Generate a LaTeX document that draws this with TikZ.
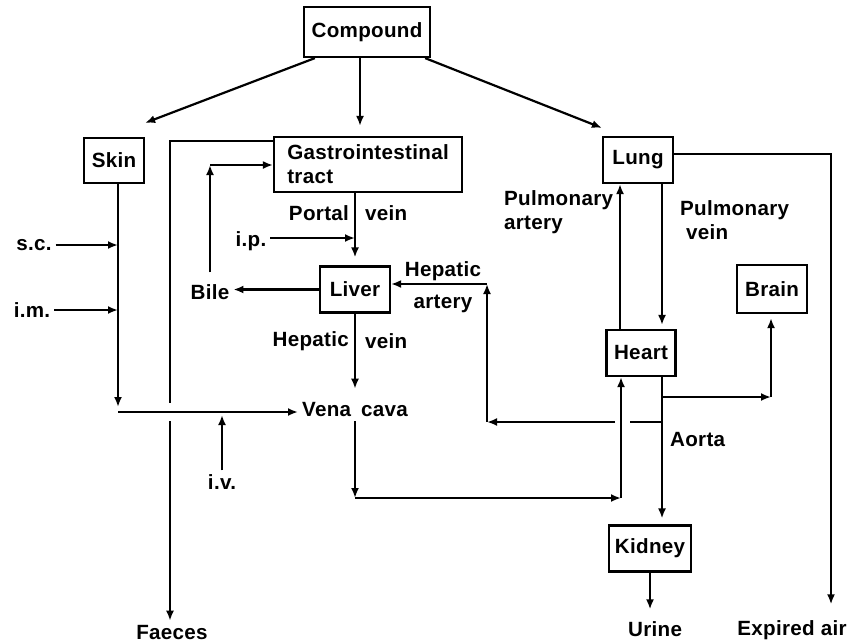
\documentclass[tikz,border=0pt]{standalone}
\usepackage{fontspec}
\setmainfont{Liberation Sans}[LetterSpace=1.5]
\usepackage{tikz}
\usetikzlibrary{arrows.meta,positioning}

\begin{document}
\begin{tikzpicture}[x=0.5pt, y=-0.5pt, line width=1.1pt,
  >={Latex[length=5pt,width=4pt]},
  every node/.style={font=\fontsize{10.3}{12}\selectfont\bfseries, inner sep=1.5pt},
  organ/.style={draw, line width=1.1pt, minimum height=23pt, inner sep=3pt}]
  \useasboundingbox (0,0) rectangle (854,643);

  % organ boxes
  \node[organ, minimum width=63pt, minimum height=25pt] (compound) at (367,32) {Compound};
  \node[organ, minimum width=30pt, minimum height=22.5pt] (skin) at (114,160.5) {Skin};
  \node[organ, minimum width=94pt, minimum height=27.5pt, align=left] (gi) at (368,164.5) {Gastrointestinal\\tract};
  \node[organ, minimum width=35pt] (lung) at (638,160) {Lung};
  \node[organ, minimum width=35pt] (liver) at (355,289.5) {Liver};
  \node[organ, minimum width=35pt, minimum height=24pt] (brain) at (772,289) {Brain};
  \node[organ, minimum width=34.5pt] (heart) at (641,353) {Heart};
  \node[organ, minimum width=40pt] (kidney) at (650,548.5) {Kidney};

  % plain labels
  \node (sc) at (34,245) {s.c.};
  \node (im) at (32,310) {i.m.};
  \node (ip) at (251,241) {i.p.};
  \node (iv) at (222,482) {i.v.};
  \node (bile) at (210,292) {Bile};
  \node (venacava) at (355,410) {Vena\hspace{5pt}cava};
  \node (faeces) at (172,632) {Faeces};
  \node (urine) at (655,629) {Urine};
  \node (expired) at (792,630) {Expired air};
  \node[anchor=east] (portal) at (353,213) {Portal};
  \node[anchor=west] (pvein) at (361,213) {vein};
  \node[anchor=east] (hepatic) at (353,341) {Hepatic};
  \node[anchor=west] (hvein) at (361,341) {vein};
  \node[align=center] (hepart) at (443,287) {Hepatic\\[4pt]artery};
  \node[anchor=west, align=left] (pulart) at (500,212) {Pulmonary\\artery};
  \node[anchor=west, align=left] (pulvein) at (676,220) {Pulmonary\\\ vein};
  \node[anchor=west] (aortalbl) at (666,440) {Aorta};

  % corners and gaps
  \coordinate (skinc) at (118,412);
  \coordinate (gic) at (170,141);
  \coordinate (fa) at (170,403);
  \coordinate (fb) at (170,421);
  \coordinate (bilec) at (210,165);
  \coordinate (vcc) at (355,498);
  \coordinate (hc) at (621,498);
  \coordinate (ao) at (662,375);
  \coordinate (brc) at (771,397);
  \coordinate (hac) at (487,422);
  \coordinate (hat) at (487,284);
  \coordinate (ga) at (630,422);
  \coordinate (gb) at (615,422);
  \coordinate (airc) at (831,154);

  % from compound
  \draw[->] ([xshift=6pt]compound.south west) -- ([yshift=7pt]skin.north east);
  \draw[->] ([xshift=-3.5pt]compound.south) -- ([xshift=-3.5pt, yshift=5pt]compound.south |- gi.north);
  \draw[->] ([xshift=-3pt]compound.south east) -- ([yshift=4pt]lung.north west);

  % skin route
  \draw[->] (skin.south -| skinc) -- ([yshift=2.5pt]skinc);
  \draw[->] (skinc) -- (venacava.west |- skinc);
  \draw[->] (sc.east) -- (sc.east -| skinc);
  \draw[->] (im.east) -- (im.east -| skinc);
  \draw[->] (iv.north) -- ([yshift=-1.5pt]iv.north |- skinc);

  % gut, bile, faeces
  \draw (gi.west |- gic) -- (gic) -- (fa);
  \draw[->] (fb) -- (fb |- faeces.north);
  \draw[->] (liver.west) -- (liver.west -| bile.east);
  \draw[->] ([yshift=4pt]bile.north) -- (bilec);
  \draw[->] (bilec) -- (gi.west |- bilec);
  \draw[->, shorten >=4pt] (gi.south -| liver) -- (liver.north);
  \draw[->] ([yshift=1.5pt]ip.east) -- ([yshift=1.5pt]ip.east -| liver);
  \draw[->, shorten >=5pt] (liver.south) -- (venacava.north);

  % vena cava to heart
  \draw[->] (venacava.south) -- (vcc);
  \draw[->] (vcc) -- (hc);
  \draw[->] (hc) -- (heart.south -| hc);

  % lung and heart
  \draw[->] (heart.north -| 620,0) -- (lung.south -| 620,0);
  \draw[->, shorten >=2pt] (lung.south -| ao) -- (heart.north -| ao);
  \draw[->, shorten >=6pt] (lung.east |- airc) -- (airc) -- (airc |- expired.north);

  % aorta
  \draw[->, shorten >=3pt] (ao) -- (kidney.north -| ao);
  \draw[->] (ao |- brc) -- (brc);
  \draw[->, shorten >=2pt] (brc) -- (brc |- brain.south);
  \draw (ao |- hac) -- (ga);
  \draw[->] (gb) -- (hac);
  \draw[->] (hac) -- (hat);
  \draw[->] (hat) -- (liver.east |- hat);
  \draw[->, shorten >=4pt] (kidney.south) -- (kidney.south |- urine.north);
\end{tikzpicture}
\end{document}
